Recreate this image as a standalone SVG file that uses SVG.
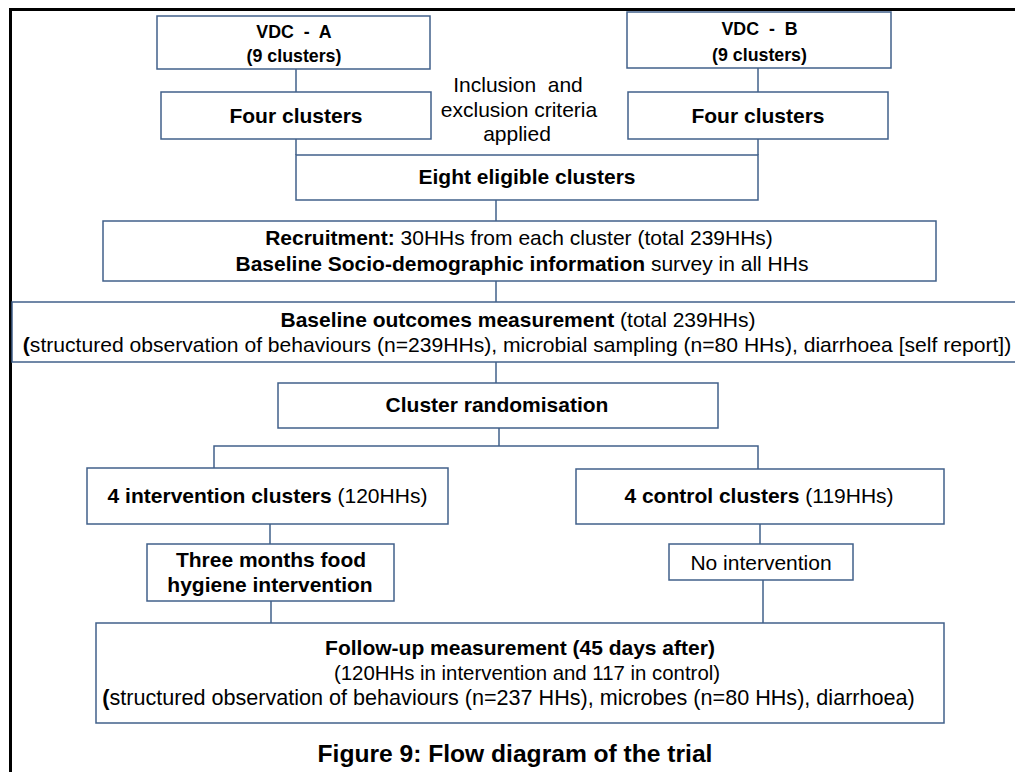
<svg xmlns="http://www.w3.org/2000/svg" width="1015" height="772" viewBox="0 0 1015 772">
<style>
.box{fill:#ffffff;stroke:#41608a;stroke-width:1.5}
.con{fill:none;stroke:#41608a;stroke-width:1.5}
text{font-family:"Liberation Sans",Arial,sans-serif;fill:#000;text-anchor:middle}
.t{font-size:21px}
.v{font-size:17.8px;font-weight:bold}
.b{font-weight:bold}
.title{font-size:24.6px;font-weight:bold}
</style>
<rect x="0" y="0" width="1015" height="772" fill="#ffffff"/>
<rect x="10.5" y="9.5" width="1020" height="780" fill="none" stroke="#000" stroke-width="3"/>
<g id="connectors">
<line class="con" x1="296" y1="69" x2="296" y2="92"/>
<line class="con" x1="758" y1="68" x2="758" y2="92"/>
<line class="con" x1="296" y1="139" x2="296" y2="155"/>
<line class="con" x1="758" y1="139" x2="758" y2="155"/>
<line class="con" x1="496" y1="200" x2="496" y2="221"/>
<line class="con" x1="496" y1="281" x2="496" y2="302"/>
<line class="con" x1="496" y1="362" x2="496" y2="383"/>
<polyline class="con" points="499,428 499,446"/>
<polyline class="con" points="214,468 214,446 758,446 758,469"/>
<line class="con" x1="270" y1="524" x2="270" y2="544"/>
<line class="con" x1="760" y1="524" x2="760" y2="544"/>
<line class="con" x1="271" y1="601" x2="271" y2="623"/>
<line class="con" x1="763" y1="580" x2="763" y2="623"/>
</g>
<g id="vdc-a">
<rect class="box" x="157" y="16" width="273" height="53"/>
<text class="v" x="294" y="38" xml:space="preserve">VDC  -  A</text>
<text class="v" x="294" y="62">(9 clusters)</text>
</g>
<g id="vdc-b">
<rect class="box" x="627" y="12" width="264" height="56"/>
<text class="v" x="759.5" y="35" xml:space="preserve">VDC  -  B</text>
<text class="v" x="759.5" y="61">(9 clusters)</text>
</g>
<g id="four-a">
<rect class="box" x="161" y="92" width="270" height="47"/>
<text class="t b" x="296" y="123">Four clusters</text>
</g>
<g id="four-b">
<rect class="box" x="628" y="92" width="260" height="47"/>
<text class="t b" x="758" y="123">Four clusters</text>
</g>
<g id="criteria">
<text class="t" x="518" y="92" xml:space="preserve">Inclusion  and</text>
<text class="t" x="519" y="117">exclusion criteria</text>
<text class="t" x="517" y="141">applied</text>
</g>
<g id="eight">
<rect class="box" x="296" y="155" width="462" height="45"/>
<text class="t b" x="527" y="184">Eight eligible clusters</text>
</g>
<g id="recruitment">
<rect class="box" x="103" y="221" width="833" height="60"/>
<text class="t" x="519" y="245"><tspan class="b">Recruitment:</tspan> 30HHs from each cluster (total 239HHs)</text>
<text class="t" x="522" y="271"><tspan class="b">Baseline Socio-demographic information</tspan> survey in all HHs</text>
</g>
<g id="baseline">
<rect class="box" x="12" y="302" width="1010" height="60"/>
<text class="t" x="518" y="327"><tspan class="b">Baseline outcomes measurement</tspan> (total 239HHs)</text>
<text class="t" x="517" y="352" style="font-size:21.1px"><tspan class="b">(</tspan>structured observation of behaviours (n=239HHs), microbial sampling (n=80 HHs), diarrhoea [self report])</text>
</g>
<g id="randomisation">
<rect class="box" x="278" y="383" width="440" height="45"/>
<text class="t b" x="497" y="412">Cluster randomisation</text>
</g>
<g id="intervention">
<rect class="box" x="87" y="468" width="361" height="56"/>
<text class="t" x="267.5" y="503"><tspan class="b">4 intervention clusters</tspan> (120HHs)</text>
</g>
<g id="control">
<rect class="box" x="576" y="469" width="368" height="55"/>
<text class="t" x="759" y="503"><tspan class="b">4 control clusters</tspan> (119HHs)</text>
</g>
<g id="three-months">
<rect class="box" x="147" y="544" width="247" height="57"/>
<text class="t b" x="271" y="567">Three months food</text>
<text class="t b" x="270" y="592">hygiene intervention</text>
</g>
<g id="no-intervention">
<rect class="box" x="669" y="544" width="184" height="36"/>
<text class="t" x="761" y="570">No intervention</text>
</g>
<g id="follow-up">
<rect class="box" x="96" y="623" width="848" height="100"/>
<text class="t b" x="520" y="655">Follow-up measurement (45 days after)</text>
<text class="t" x="527" y="680" style="font-size:20.4px">(120HHs in intervention and 117 in control)</text>
<text class="t" x="508.5" y="705" style="font-size:21.6px"><tspan class="b">(</tspan>structured observation of behaviours (n=237 HHs), microbes (n=80 HHs), diarrhoea)</text>
</g>
<g id="caption">
<text class="title" x="515" y="762">Figure 9: Flow diagram of the trial</text>
</g>
</svg>
